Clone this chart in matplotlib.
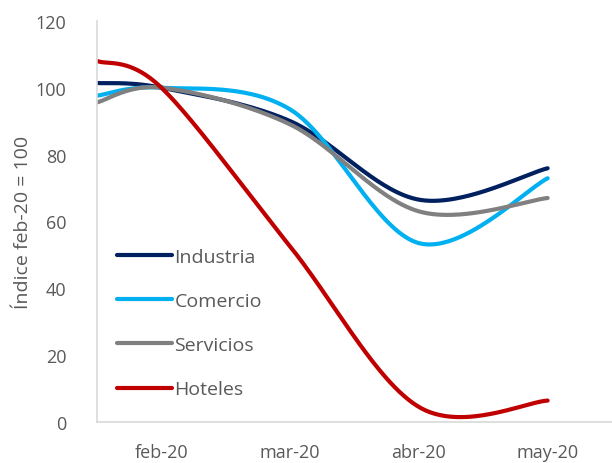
import numpy as np
import matplotlib
matplotlib.use("Agg")
import matplotlib.pyplot as plt

# x positions: first value sits half a month before feb-20
x_pos = [-0.5, 0, 1, 2, 3]
months = ["feb-20", "mar-20", "abr-20", "may-20"]

industria = [101.4, 100.0, 90.0, 66.5, 75.9]
comercio = [97.6, 100.0, 93.5, 53.5, 72.9]
servicios = [95.6, 100.0, 89.0, 63.0, 67.0]
hoteles = [108.0, 100.0, 52.5, 4.5, 6.4]

series = [
    ("Industria", industria, "#002060"),
    ("Comercio", comercio, "#00B0F0"),
    ("Servicios", servicios, "#808080"),
    ("Hoteles", hoteles, "#C00000"),
]


def smooth(xs, ys, n=60):
    # excel-like smoothing: bezier with catmull-rom control points
    p = np.column_stack([xs, ys]).astype(float)
    out = []
    for i in range(len(p) - 1):
        p0 = p[i - 1] if i > 0 else p[i]
        p1 = p[i]
        p2 = p[i + 1]
        p3 = p[i + 2] if i + 2 < len(p) else p[i + 1]
        c1 = p1 + (p2 - p0) / 6
        c2 = p2 - (p3 - p1) / 6
        t = np.linspace(0, 1, n)[:, None]
        seg = ((1 - t) ** 3) * p1 + 3 * ((1 - t) ** 2) * t * c1 + 3 * (1 - t) * t ** 2 * c2 + t ** 3 * p2
        out.append(seg if i == 0 else seg[1:])
    out = np.vstack(out)
    return out[:, 0], out[:, 1]


plt.rcParams['font.family'] = ['Open Sans', 'DejaVu Sans']
txt = "#595959"

fig = plt.figure(figsize=(6.12, 4.64), dpi=100)
ax = fig.add_axes([0.1585, 0.0884, 0.8415, 0.8646])

for name, vals, col in series:
    sx, sy = smooth(x_pos, vals)
    ax.plot(sx, sy, color=col, lw=3, label=name, solid_capstyle='round')

ax.set_xlim(-0.5, 3.5)
ax.set_ylim(0, 120)
ax.set_yticks(range(0, 121, 20))
ax.set_xticks(range(len(months)))
ax.set_xticklabels(months)
ax.tick_params(length=0, labelsize=13, colors=txt)
ax.tick_params(axis='x', pad=15)
ax.tick_params(axis='y', pad=22)
ax.set_ylabel("Índice feb-20 = 100", fontsize=14, color=txt, labelpad=3)

for s in ["top", "right"]:
    ax.spines[s].set_visible(False)
for s in ["left", "bottom"]:
    ax.spines[s].set_color("#D9D9D9")
    ax.spines[s].set_linewidth(1.2)

leg = ax.legend(loc="lower left", bbox_to_anchor=(0.005, 0.015), frameon=False,
                fontsize=14, handlelength=2.8, handletextpad=0.15,
                labelspacing=1.35, labelcolor=txt)

fig.savefig("out.png", dpi=100)
